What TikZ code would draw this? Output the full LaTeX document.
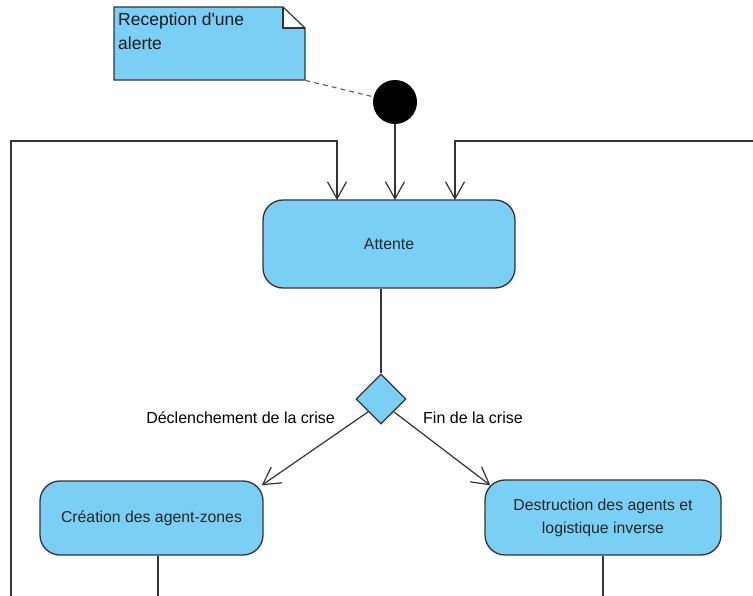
\documentclass[tikz,border=0pt]{standalone}
\usepackage{fontspec}
\setmainfont{Liberation Sans}
\usetikzlibrary{arrows.meta,shapes.geometric,calc}
\definecolor{fillblue}{HTML}{7ACFF5}
\definecolor{linegray}{HTML}{333333}
\tikzset{
  state/.style={draw=linegray, fill=fillblue, rounded corners=20pt, line width=1.3pt,
    align=center, inner sep=0pt, font=\fontsize{15.8}{23}\selectfont, text=black!85},
  conn/.style={draw=linegray, line width=1.2pt, -{Straight Barb[length=17pt,width=19pt,line width=1.2pt]}},
  plain/.style={draw=linegray, line width=1.2pt},
  lbl/.style={font=\fontsize{16}{19}\selectfont, inner sep=0pt}
}
\begin{document}
\begin{tikzpicture}[x=1pt,y=-1pt]
\useasboundingbox (0,0) rectangle (753,596);
% note
\node[inner sep=0pt, minimum width=191pt, minimum height=73pt, anchor=north west] (note) at (114,7) {};
\fill[fillblue] (114,7) -- (283,7) -- (305,28) -- (305,80) -- (114,80) -- cycle;
\fill[white] (283,7) -- (305,28) -- (283,28) -- cycle;
\draw[linegray, line width=1.2pt, line join=miter] (114,7) -- (283,7) -- (305,28) -- (305,80) -- (114,80) -- cycle;
\draw[linegray, line width=1.2pt] (283,7) -- (283,28) -- (305,28);
\node[anchor=north west, align=left, inner sep=0pt, font=\fontsize{17.5}{24}\selectfont, text=black!90] (notetext) at (118,13) {Reception d\textquotesingle une\\alerte};
% initial node
\node[circle, fill=black, minimum size=44pt, inner sep=0pt] (init) at (395,102) {};
\draw[linegray!80, line width=1.1pt, dash pattern=on 5pt off 4pt] (note.south east) -- (init);
% states
\node[state, minimum width=252pt, minimum height=88pt] (attente) at (389,244) {Attente};
\node[diamond, draw=linegray, fill=fillblue, line width=1.3pt, minimum width=50pt, minimum height=50pt, inner sep=0pt, aspect=1] (dec) at (381,399) {};
\node[state, minimum width=223pt, minimum height=74pt] (creation) at (151.5,518) {Création des agent-zones};
\node[state, minimum width=236pt, minimum height=75pt] (destr) at (603,517.5) {Destruction des agents et\\logistique inverse};
% coordinates
\coordinate (lb) at (11,596);
\coordinate (rb) at (753,141);
\coordinate (cb) at (158,596);
\coordinate (db) at (603,596);
\coordinate (a1) at (337,200);
\coordinate (a2) at (395,200);
\coordinate (a3) at (455,200);
% connectors
\draw[conn] (init) -- (a2);
\draw[conn] (lb) |- (337,141) -- (a1);
\draw[conn] (rb) -| (a3);
\draw[plain] (attente.south -| dec.north) -- (dec.north);
\draw[conn] ($(dec.west)!0.5!(dec.south)$) -- ($(creation.north east)+(-2,5)$);
\draw[conn] ($(dec.east)!0.5!(dec.south)$) -- ($(destr.north west)+(6,6)$);
\draw[plain] (creation.south -| cb) -- (cb);
\draw[plain] (destr.south) -- (db);
% labels
\node[lbl, anchor=east] (l1) at (335,418) {Déclenchement de la crise};
\node[lbl, anchor=west] (l2) at (423,418) {Fin de la crise};
\end{tikzpicture}
\end{document}
